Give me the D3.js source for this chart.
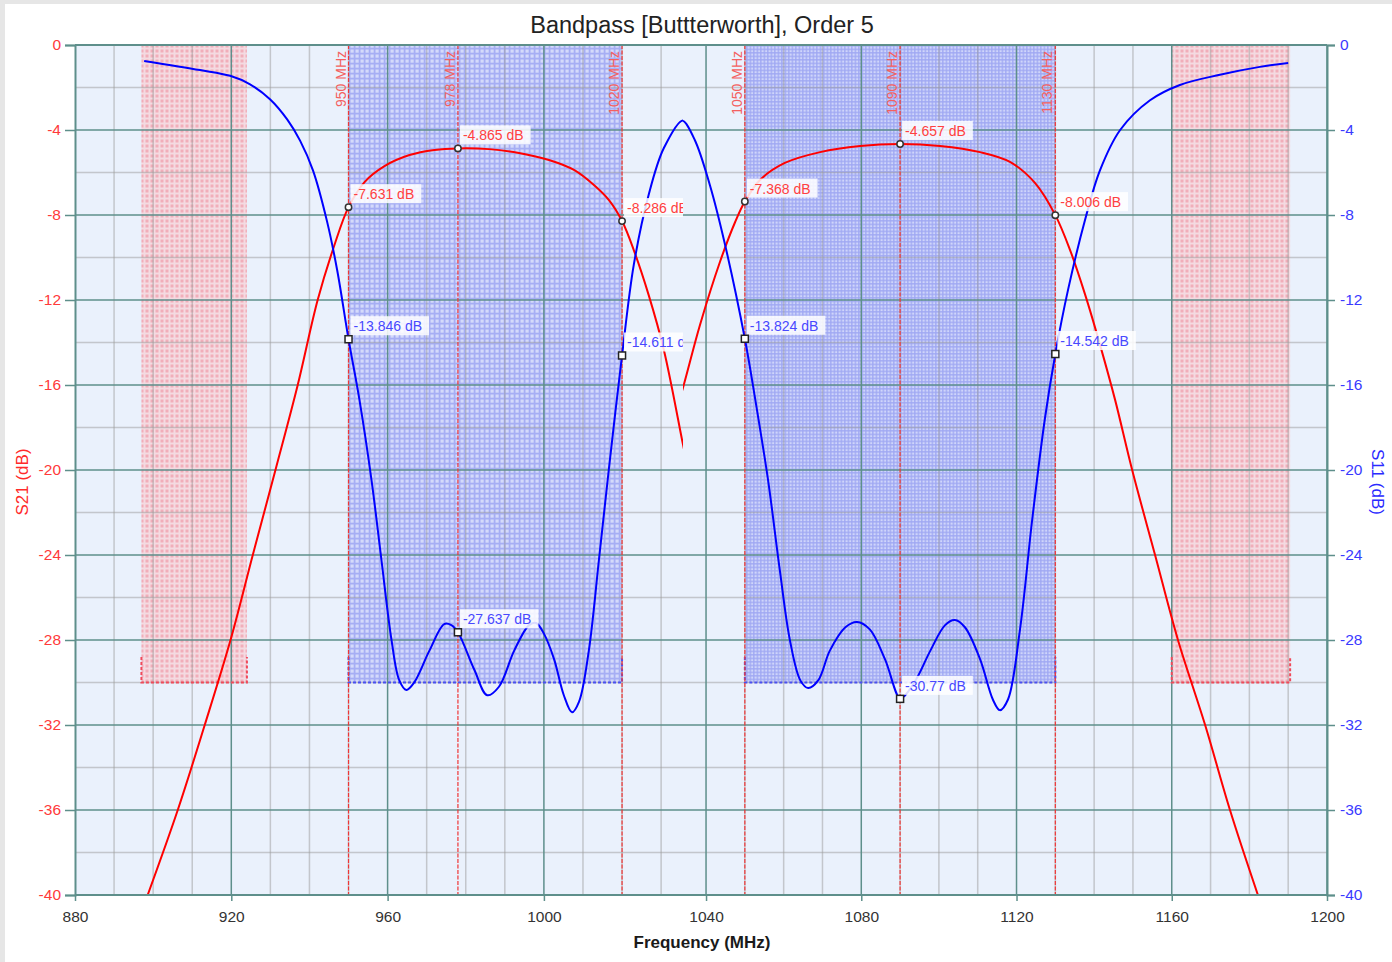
<!DOCTYPE html>
<html>
<head>
<meta charset="utf-8">
<script src="https://cdn.jsdelivr.net/npm/d3@7"></script>
<style>
  html, body { margin: 0; padding: 0; background: #e6e6e6; }
  #chart { position: absolute; left: 5px; top: 4px; }
  text { font-family: "Liberation Sans", Arial, sans-serif; }
</style>
</head>
<body>
<div id="chart"></div>
<script>
// two sweeps stitched together at about 1035 MHz (MHz, dB)
const s21Left = [
  [898.6, -40], [906.3, -36], [913.2, -32], [919.8, -28], [925.5, -24], [931.3, -20],
  [937.0, -16], [942.1, -12], [946.4, -9.41], [950, -7.631], [954.1, -6.45], [959.2, -5.7],
  [965.6, -5.18], [972, -4.94], [978, -4.865], [986, -4.9], [993.6, -5.08], [1001.3, -5.41],
  [1007.7, -5.88], [1012.8, -6.59], [1016.6, -7.29], [1020, -8.286], [1023, -9.65],
  [1026.8, -11.76], [1030.7, -14.35], [1035.6, -18.8], [1037.5, -20.5]
];
const s11Left = [
  [897.7, -0.75], [912.0, -1.18], [919.7, -1.45], [924.8, -1.85], [929.9, -2.55], [934.3, -3.5],
  [937.6, -4.5], [940.9, -5.9], [944.5, -8.3], [947.1, -10.6], [950, -13.846], [952.8, -16.7],
  [955.9, -20.5], [958.4, -24.2], [961, -28], [963, -29.9], [964.8, -30.35], [966.8, -30.0],
  [970.7, -28.5], [974.5, -27.25], [976.3, -27.3], [978, -27.637], [982.2, -29.4], [985.5, -30.6],
  [988.5, -30.2], [992.4, -28.5], [996.2, -27.3], [998, -27.2], [1000, -27.7], [1002.6, -28.9],
  [1005.1, -30.6], [1007.2, -31.4], [1009, -30.9], [1011.5, -28.5], [1014.1, -24.2], [1016.6, -20],
  [1020, -14.611], [1023, -10.35], [1026.8, -7.06], [1030.7, -4.85], [1035.6, -3.55], [1037.5, -4.3]
];
const s21Right = [
  [1031.8, -17.5], [1034.1, -16.1], [1038.4, -13.2], [1043.6, -10.2], [1047.5, -8.33], [1050, -7.368],
  [1053.9, -6.35], [1060.3, -5.55], [1069.4, -5.04], [1079.7, -4.75], [1090, -4.657],
  [1100.3, -4.75], [1110.6, -5.04], [1118.3, -5.5], [1124.8, -6.5], [1130, -8.006],
  [1133.8, -9.65], [1137.7, -11.76], [1141.5, -14.1], [1145.4, -16.7], [1149.8, -20],
  [1155.7, -24], [1161.6, -28], [1168.6, -32], [1175.0, -36], [1182.2, -40]
];
const s11Right = [
  [1032.5, -4.3], [1034.0, -3.58], [1037.1, -4.47], [1041.0, -6.6], [1044.9, -9.4], [1050, -13.824],
  [1052.7, -16.7], [1056.0, -20.5], [1059.0, -24.7], [1061.6, -28], [1064.3, -29.9],
  [1066.3, -30.26], [1068.9, -29.9], [1071.9, -28.5], [1075.9, -27.4], [1078.9, -27.15],
  [1082.2, -27.5], [1086.1, -28.9], [1090, -30.77], [1091.3, -30.6], [1094.3, -29.8], [1097.8, -28.5],
  [1101.6, -27.3], [1104.1, -27.06], [1106.7, -27.4], [1110.6, -28.9], [1113.9, -30.8],
  [1115.7, -31.3], [1117.8, -30.8], [1120.9, -27.5], [1124.0, -22.4], [1127.3, -17.6],
  [1130, -14.542], [1133.3, -11.5], [1137.7, -8.2], [1141.5, -5.9], [1146.7, -4],
  [1154.4, -2.6], [1162.1, -1.88], [1172.4, -1.4], [1182.7, -1.03], [1190.0, -0.85]
];

const spliceF = 1035.6;
const markersLeft = [950, 978, 1020];
const markersRight = [1050, 1090, 1130];
const s21Marks = [[950, -7.631], [978, -4.865], [1020, -8.286], [1050, -7.368], [1090, -4.657], [1130, -8.006]];
const s11Marks = [[950, -13.846], [978, -27.637], [1020, -14.611], [1050, -13.824], [1090, -30.77], [1130, -14.542]];
const passLeft = [950, 1020], passRight = [1050, 1130];
const stopLeft = [897, 924], stopRight = [1160, 1190.5];
const maskLevel = -30;
const maskEdgeTop = -28.8;
const xTicks = [880, 920, 960, 1000, 1040, 1080, 1120, 1160, 1200];
const yTicks = [0, -4, -8, -12, -16, -20, -24, -28, -32, -36, -40];

const W = 1387, H = 958;
const pL = 70, pR = 1322, pT = 41, pB = 891;

const svg = d3.select("#chart").append("svg").attr("width", W).attr("height", H);
svg.append("rect").attr("width", W).attr("height", H).attr("fill", "#fff");

// the two sweeps have slightly different horizontal scales
const xL = d3.scaleLinear().domain([880, 1200]).range([pL, pL + 320 * 3.9075]);
const xR = d3.scaleLinear().domain([880, 1200]).range([pR - 320 * 3.881, pR]);
const y = d3.scaleLinear().domain([-40, 0]).range([pB, pT]);
const cut = xL(spliceF);

// patterns
const defs = svg.append("defs");
function hatch(id, size, base, dot, ds) {
  const p = defs.append("pattern").attr("id", id).attr("patternUnits", "userSpaceOnUse")
    .attr("width", size).attr("height", size);
  p.append("rect").attr("width", size).attr("height", size).attr("fill", base);
  p.append("rect").attr("x", 0.5).attr("y", 0.5).attr("width", ds).attr("height", ds).attr("fill", dot);
}
hatch("blueA", 5, "#8f98f1", "#cdd2fa", 3.2);
hatch("blueB", 3.5, "#8d96f1", "#c8cefa", 2.2);
hatch("redA", 5, "#f6d6dc", "#f2a2ae", 3);

function clip(id, x0, x1, y0, y1) {
  defs.append("clipPath").attr("id", id).append("rect")
    .attr("x", x0).attr("y", y0).attr("width", x1 - x0).attr("height", y1 - y0);
}
clip("plotL", pL, cut, pT, pB);
clip("plotR", cut, pR, pT, pB);
clip("fullL", 0, cut, 0, H);
clip("fullR", cut, W, 0, H);

// plot background
svg.append("rect").attr("x", pL).attr("y", pT).attr("width", pR - pL).attr("height", pB - pT)
  .attr("fill", "#eaf1fc");

function drawHalf(side) {
  const isL = side === "L";
  const x = isL ? xL : xR;
  const g = svg.append("g").attr("clip-path", `url(#plot${side})`);
  const s21 = isL ? s21Left : s21Right;
  const s11 = isL ? s11Left : s11Right;
  const pass = isL ? passLeft : passRight;
  const stop = isL ? stopLeft : stopRight;
  const markers = isL ? markersLeft : markersRight;
  const inHalf = d => markers.includes(d[0]);

  // mask fills
  g.append("rect").attr("x", x(stop[0])).attr("y", y(0)).attr("width", x(stop[1]) - x(stop[0]))
    .attr("height", y(maskLevel) - y(0)).attr("fill", "url(#redA)").attr("opacity", 0.85);
  g.append("rect").attr("x", x(pass[0])).attr("y", y(0)).attr("width", x(pass[1]) - x(pass[0]))
    .attr("height", y(maskLevel) - y(0)).attr("fill", isL ? "url(#blueA)" : "url(#blueB)")
    .attr("opacity", isL ? 0.75 : 0.8);

  // grid
  g.selectAll(".vminor").data(d3.range(890, 1200, 10).filter(d => d % 40 !== 0)).enter().append("line")
    .attr("x1", d => x(d)).attr("x2", d => x(d)).attr("y1", pT).attr("y2", pB)
    .attr("stroke", "#9c9c9c").attr("stroke-opacity", 0.5).attr("stroke-width", 1.5);
  g.selectAll(".hminor").data(d3.range(-2, -40, -4)).enter().append("line")
    .attr("x1", pL).attr("x2", pR).attr("y1", d => y(d)).attr("y2", d => y(d))
    .attr("stroke", "#9c9c9c").attr("stroke-opacity", 0.5).attr("stroke-width", 1.5);
  g.selectAll(".vmajor").data(xTicks).enter().append("line")
    .attr("x1", d => x(d)).attr("x2", d => x(d)).attr("y1", pT).attr("y2", pB)
    .attr("stroke", "#5e8f8b").attr("stroke-width", 1.5);
  g.selectAll(".hmajor").data(yTicks).enter().append("line")
    .attr("x1", pL).attr("x2", pR).attr("y1", d => y(d)).attr("y2", d => y(d))
    .attr("stroke", "#5e8f8b").attr("stroke-width", 1.5);

  // mask borders
  [[stop, "#f04a5a"], [pass, "#4a50f0"]].forEach(([b, c]) => {
    g.append("path").attr("d", `M${x(b[0])},${y(maskEdgeTop)}V${y(maskLevel)}H${x(b[1])}V${y(maskEdgeTop)}`)
      .attr("fill", "none").attr("stroke", c).attr("stroke-width", 2).attr("stroke-dasharray", "3,2");
  });

  // marker lines and labels
  g.selectAll(".mline").data(markers).enter().append("line")
    .attr("x1", d => x(d)).attr("x2", d => x(d)).attr("y1", pT).attr("y2", pB)
    .attr("stroke", "#f03535").attr("stroke-width", 1.2).attr("stroke-dasharray", "4,1.5");
  g.selectAll(".mlab").data(markers).enter().append("text")
    .attr("transform", d => `translate(${x(d) - 3},${pT + 6}) rotate(-90)`)
    .attr("text-anchor", "end").attr("font-size", 14).attr("fill", "#f46060")
    .text(d => d + " MHz");

  // curves
  const line = d3.line().x(d => x(d[0])).y(d => y(d[1])).curve(d3.curveCatmullRom);
  g.append("path").attr("d", line(s21)).attr("fill", "none").attr("stroke", "#ff0000").attr("stroke-width", 2);
  g.append("path").attr("d", line(s11)).attr("fill", "none").attr("stroke", "#0000ff").attr("stroke-width", 2);

  // marker points with value boxes
  function addMark(d, kind) {
    const mx = x(d[0]), my = y(d[1]);
    const lab = g.append("g");
    const t = lab.append("text").attr("x", mx + 5).attr("y", my - 8).attr("font-size", 14)
      .attr("fill", kind === "s21" ? "#ff4040" : "#4848ff").text(d[1] + " dB");
    const w = t.node().getComputedTextLength();
    lab.insert("rect", "text").attr("x", mx + 2).attr("y", my - 23).attr("width", w + 10).attr("height", 19)
      .attr("fill", "#fff").attr("opacity", 0.85);
    if (kind === "s21") {
      g.append("circle").attr("cx", mx).attr("cy", my).attr("r", 3.2)
        .attr("fill", "#fff").attr("stroke", "#333").attr("stroke-width", 1.5);
    } else {
      g.append("rect").attr("x", mx - 3.5).attr("y", my - 3.5).attr("width", 7).attr("height", 7)
        .attr("fill", "#fff").attr("stroke", "#222").attr("stroke-width", 1.5);
    }
  }
  s21Marks.filter(inHalf).forEach(d => addMark(d, "s21"));
  s11Marks.filter(inHalf).forEach(d => addMark(d, "s11"));

  // bottom axis labels for this half
  const ticks = xTicks.filter(d => isL ? x(d) < cut : x(d) > cut);
  const ax = svg.append("g").attr("clip-path", `url(#full${side})`)
    .append("g").attr("transform", `translate(0,${pB})`)
    .call(d3.axisBottom(x).tickValues(ticks).tickSize(6).tickPadding(10).tickFormat(d => d));
  ax.select(".domain").remove();
  ax.selectAll(".tick line").attr("stroke", "#5e8f8b").attr("stroke-width", 1.5);
  ax.selectAll("text").attr("font-size", 15.5).attr("fill", "#333")
    .attr("font-family", "Liberation Sans, Arial, sans-serif");
}
drawHalf("L");
drawHalf("R");

// frame and vertical axes
const axisL = svg.append("g").attr("transform", `translate(${pL},0)`)
  .call(d3.axisLeft(y).tickValues(yTicks).tickSize(10).tickPadding(4).tickFormat(d => d));
const axisR = svg.append("g").attr("transform", `translate(${pR},0)`)
  .call(d3.axisRight(y).tickValues(yTicks).tickSize(8).tickPadding(5).tickFormat(d => d));
[axisL, axisR].forEach(a => {
  a.select(".domain").attr("stroke", "#5e8f8b").attr("stroke-width", 2);
  a.selectAll(".tick line").attr("stroke", "#5e8f8b").attr("stroke-width", 1.5);
  a.selectAll("text").attr("font-size", 15.5).attr("font-family", "Liberation Sans, Arial, sans-serif");
});
axisL.selectAll("text").attr("fill", "#ff3a3a");
axisR.selectAll("text").attr("fill", "#3a3aff");
[pT, pB].forEach(v => svg.append("line").attr("x1", pL).attr("x2", pR).attr("y1", v).attr("y2", v)
  .attr("stroke", "#5e8f8b").attr("stroke-width", 2));

// titles
svg.append("text").attr("x", 697).attr("y", 29).attr("text-anchor", "middle")
  .attr("font-size", 23.5).attr("fill", "#222").text("Bandpass [Buttterworth], Order 5");
svg.append("text").attr("x", 697).attr("y", 944).attr("text-anchor", "middle")
  .attr("font-size", 17).attr("font-weight", "bold").attr("fill", "#1a1a1a").text("Frequency (MHz)");
svg.append("text").attr("transform", `translate(23,478) rotate(-90)`)
  .attr("text-anchor", "middle").attr("font-size", 17).attr("fill", "#ff2a2a").text("S21 (dB)");
svg.append("text").attr("transform", `translate(1367,478) rotate(90)`)
  .attr("text-anchor", "middle").attr("font-size", 17).attr("fill", "#2a2aff").text("S11 (dB)");
</script>
</body>
</html>
